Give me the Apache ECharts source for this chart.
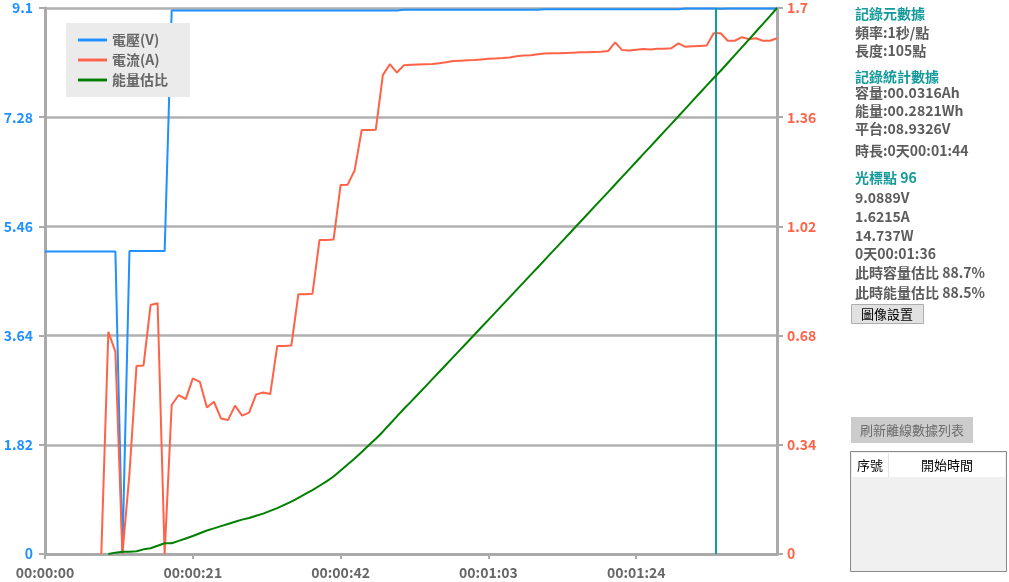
<!DOCTYPE html>
<html><head><meta charset="utf-8">
<script src="https://cdn.jsdelivr.net/npm/echarts@6/dist/echarts.min.js"></script>
<style>html,body{margin:0;padding:0;background:#fff}#c{width:1009px;height:582px}</style>
</head><body><div id="c"></div>
<script>
// Series names
const seriesNames = ['電壓(V)', '電流(A)', '能量估比'];
// Voltage (V), one point per second, t = 0..104
const voltage = [
 5.04,5.04,5.04,5.04,5.04,5.04,5.04,5.04,5.04,5.04,5.04,
 0,
 5.05,5.05,5.05,5.05,5.05,5.05,
 9.06,9.06,9.06,9.06,9.06,9.06,9.06,9.06,9.06,9.06,9.06,9.06,9.06,9.06,9.06,9.06,9.06,9.06,9.06,9.06,9.06,9.06,9.06,9.06,9.06,9.06,9.06,9.06,9.06,9.06,9.06,9.06,9.06,
 9.07,9.07,9.07,9.07,9.07,9.07,9.07,9.07,9.07,9.07,9.07,9.07,9.07,9.07,9.07,9.07,9.07,9.07,9.07,9.07,
 9.08,9.08,9.08,9.08,9.08,9.08,9.08,9.08,9.08,9.08,9.08,9.08,9.08,9.08,9.08,9.08,9.08,9.08,9.08,9.08,
 9.09,9.09,9.09,9.09,9.09,9.0889,9.09,9.09,9.09,9.09,9.09,9.09,9.09,9.09
];
// Current (A)
const current = [
 null,null,null,null,null,null,null,null,0,
 0.692,0.63,0,0.25,0.585,0.587,0.775,0.781,0,
 0.464,0.495,0.482,0.547,0.536,0.456,0.474,0.422,0.417,0.462,0.431,0.44,0.497,0.503,0.498,
 0.648,0.648,0.649,0.809,0.809,0.81,0.978,0.978,0.979,1.149,1.15,1.195,1.32,1.32,1.321,1.491,1.525,1.499,1.522,
 1.523,1.524,1.525,1.526,1.528,1.531,1.535,1.536,1.537,1.538,1.540,1.542,1.543,1.544,1.546,1.550,1.552,1.553,1.556,1.558,1.559,1.559,1.560,1.561,1.562,1.562,1.563,1.564,1.566,
 1.593,1.569,1.568,1.570,1.572,1.571,1.573,1.573,1.575,1.590,1.579,1.581,1.582,1.583,1.621,1.6215,1.598,1.598,1.609,1.603,1.606,1.598,1.598,1.606
];
// Energy ratio (%)
const energyPct = [
 null,null,null,null,null,null,null,null,null,
 0,0.25,0.42,0.42,0.5,0.85,1.05,1.5,1.96,1.96,2.4,2.85,3.3,3.8,4.3,4.7,5.1,5.5,5.9,6.3,6.6,7.0,7.4,7.9,8.4,9.0,9.6,10.3,11.0,11.7,12.5,13.3,14.2,15.3,16.4,17.5,18.7,19.9,21.1,22.4,23.8,25.2,26.6,27.9,
 29.26,30.62,31.98,33.34,34.70,36.06,37.42,38.78,
 40.15,41.52,42.89,44.26,45.63,47.00,48.37,49.74,51.11,52.48,
 53.86,55.24,56.62,58.00,59.38,60.76,62.14,63.52,64.90,66.28,
 67.67,69.06,70.45,71.84,73.23,74.62,76.01,77.40,78.79,80.18,
 81.58,82.98,84.38,85.78,87.18,88.5,
 89.93,91.36,92.79,94.22,95.65,97.08,98.52,100
];
// Cursor position (seconds)
const cursorTime = [95.3];
// Axis ranges / ticks
const voltTicks = [0, 1.82, 3.64, 5.46, 7.28, 9.1];
const ampTicks = [0, 0.34, 0.68, 1.02, 1.36, 1.7];
const timeTickStep = 21;
const timeMax = 104;
// Side panel texts
const panelMeta = ['記錄元數據', '頻率:1秒/點', '長度:105點'];
const panelStats = ['記錄統計數據', '容量:00.0316Ah', '能量:00.2821Wh', '平台:08.9326V', '時長:0天00:01:44'];
const panelCursor = ['光標點 96', '9.0889V', '1.6215A', '14.737W', '0天00:01:36', '此時容量估比 88.7%', '此時能量估比 88.5%'];
const buttonLabels = ['圖像設置', '刷新離線數據列表'];
const tableHeaders = ['序號', '開始時間'];

const FONT = '"Noto Sans CJK TC","Noto Sans",sans-serif';
const BLUE = '#1e90ff', RED = '#ff6347', GREEN = '#008000', TEAL = '#139a9a', GRAY = '#aaaaaa';
const LINE_ICON = 'path://M0,0H30V3H0Z';

function hms(v){
  const s = Math.round(v);
  const p = n => String(n).padStart(2,'0');
  return p(Math.floor(s/3600)) + ':' + p(Math.floor(s/60)%60) + ':' + p(s%60);
}

const textYs = [14, 33, 51, 77, 93, 111, 129, 151, 178, 198, 217, 236, 254, 273, 293];
const titles = [panelMeta[0], panelStats[0], panelCursor[0]];
const panelLines = [...panelMeta, ...panelStats, ...panelCursor].map((t, i) => ({
  type: 'text', x: 855, y: textYs[i],
  style: { text: t, font: 'bold 14px ' + FONT, fill: titles.includes(t) ? TEAL : '#5c5c5c', verticalAlign: 'middle' }
}));

const graphics = panelLines.concat([
  { type: 'rect', shape: { x: 851.5, y: 304.5, width: 72, height: 19 }, style: { fill: '#e1e1e1', stroke: '#adadad', lineWidth: 1 } },
  { type: 'text', x: 887, y: 314, style: { text: buttonLabels[0], font: '13px ' + FONT, fill: '#000', align: 'center', verticalAlign: 'middle' } },
  { type: 'rect', shape: { x: 851, y: 417, width: 122, height: 26 }, style: { fill: '#cccccc' } },
  { type: 'text', x: 912, y: 430, style: { text: buttonLabels[1], font: '13px ' + FONT, fill: '#6d6d6d', align: 'center', verticalAlign: 'middle' } },
  { type: 'rect', shape: { x: 850.5, y: 451.5, width: 156, height: 120 }, style: { fill: '#f0f0f0', stroke: '#8a8a8a', lineWidth: 1 } },
  { type: 'rect', shape: { x: 852, y: 453, width: 153, height: 24 }, style: { fill: '#ffffff' } },
  { type: 'line', shape: { x1: 888.5, y1: 453, x2: 888.5, y2: 477 }, style: { stroke: '#e5e5e5', lineWidth: 1 } },
  { type: 'text', x: 870, y: 465, style: { text: tableHeaders[0], font: '13px ' + FONT, fill: '#000', align: 'center', verticalAlign: 'middle' } },
  { type: 'text', x: 947, y: 465, style: { text: tableHeaders[1], font: '13px ' + FONT, fill: '#000', align: 'center', verticalAlign: 'middle' } }
]);

const chart = echarts.init(document.getElementById('c'), null, { renderer: 'canvas' });
chart.setOption({
  animation: false,
  backgroundColor: '#ffffff',
  grid: { left: 45, right: 232, top: 8, bottom: 28 },
  legend: {
    data: seriesNames.map(n => ({ name: n, icon: LINE_ICON })), orient: 'vertical', left: 66, top: 23,
    backgroundColor: '#ebebeb', padding: [10, 22, 10, 12],
    itemWidth: 29, itemHeight: 14, itemGap: 6, selectedMode: false,
    textStyle: { color: '#666', fontWeight: 'bold', fontSize: 14, fontFamily: FONT }
  },
  xAxis: {
    type: 'value', min: 0, max: timeMax, interval: timeTickStep,
    axisLine: { lineStyle: { color: GRAY, width: 3 } },
    axisTick: { length: 5, lineStyle: { color: GRAY, width: 2 } },
    splitLine: { show: false },
    axisLabel: { formatter: hms, showMaxLabel: false, color: '#666', fontWeight: 'bold', fontSize: 14, fontFamily: FONT, margin: 12 }
  },
  yAxis: [
    { type: 'value', min: voltTicks[0], max: voltTicks[voltTicks.length-1], interval: voltTicks[1] - voltTicks[0],
      axisLine: { show: true, lineStyle: { color: GRAY, width: 3 } },
      axisTick: { show: true, length: 6, lineStyle: { color: GRAY, width: 2 } },
      splitLine: { show: true, lineStyle: { color: '#b0b0b0', width: 2.5 } },
      axisLabel: { formatter: v => String(+v.toFixed(2)), color: BLUE, fontWeight: 'bold', fontSize: 14, fontFamily: FONT, margin: 12 } },
    { type: 'value', min: ampTicks[0], max: ampTicks[ampTicks.length-1], interval: ampTicks[1] - ampTicks[0], position: 'right',
      axisLine: { show: true, lineStyle: { color: GRAY, width: 3 } },
      axisTick: { show: true, length: 6, lineStyle: { color: GRAY, width: 2 } },
      splitLine: { show: false },
      axisLabel: { formatter: v => String(+v.toFixed(2)), color: RED, fontWeight: 'bold', fontSize: 14, fontFamily: FONT, margin: 10 } },
    { type: 'value', min: 0, max: 100, show: false, splitLine: { show: false } }
  ],
  series: [
    { name: seriesNames[0], type: 'line', yAxisIndex: 0, symbol: 'none', lineStyle: { color: BLUE, width: 2 }, itemStyle: { color: BLUE },
      data: voltage.map((v, i) => [i, v]), z: 3 },
    { name: seriesNames[1], type: 'line', yAxisIndex: 1, symbol: 'none', lineStyle: { color: RED, width: 2 }, itemStyle: { color: RED },
      data: current.map((v, i) => [i, v]), z: 4 },
    { name: seriesNames[2], type: 'line', yAxisIndex: 2, symbol: 'none', lineStyle: { color: GREEN, width: 2 }, itemStyle: { color: GREEN },
      data: energyPct.map((v, i) => [i, v]), z: 5,
      markLine: { silent: true, symbol: 'none', label: { show: false },
        lineStyle: { color: TEAL, width: 2, type: 'solid' },
        data: cursorTime.map(t => ({ xAxis: t })) } }
  ],
  graphic: graphics
});
</script></body></html>
